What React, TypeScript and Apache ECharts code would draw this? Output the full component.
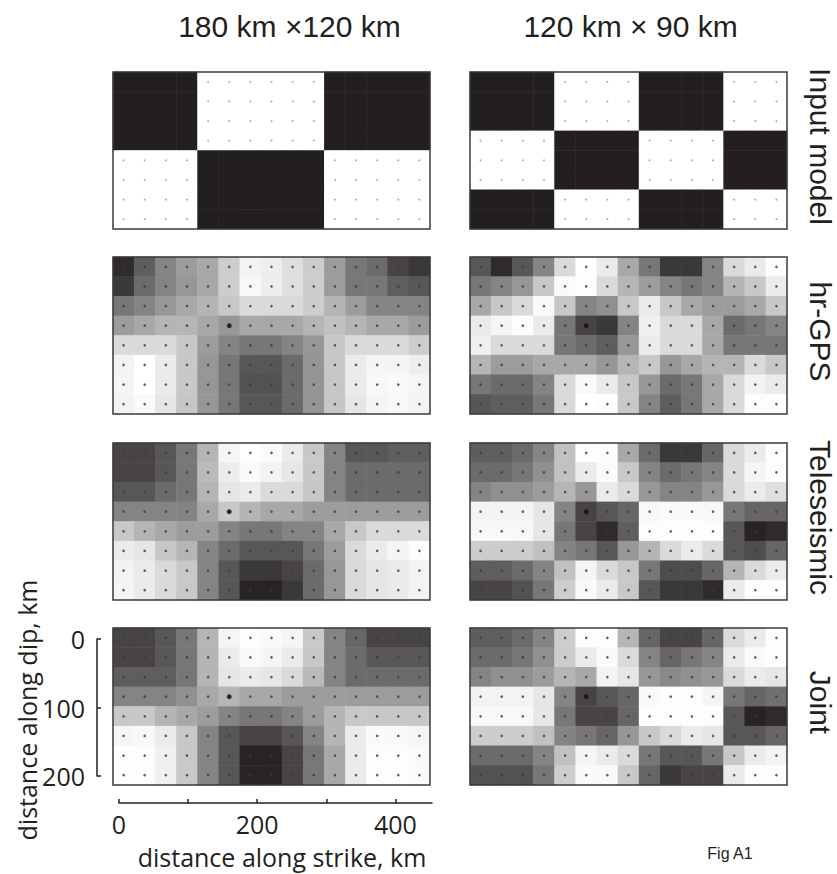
import React, { useEffect, useRef } from "react";
import * as echarts from "echarts";

// ---------- data ----------
const columnTitles = ["180 km ×120 km", "120 km × 90 km"];
const rowLabels = ["Input model", "hr-GPS", "Teleseismic", "Joint"];
const strikeCells = Array.from({ length: 15 }, (_, i) => String(i));
const dipCells = Array.from({ length: 8 }, (_, i) => String(i));
const strikeTicks = [0, 100, 200, 300, 400];
const strikeLabels = [0, 200, 400];
const dipTicks = [0, 100, 200];
const hypocenter = [5, 3];

// input checkerboards (1 = slip patch, black)
const inputLeft = [
  [1, 1, 1, 1, 0, 0, 0, 0, 0, 0, 1, 1, 1, 1, 1],
  [1, 1, 1, 1, 0, 0, 0, 0, 0, 0, 1, 1, 1, 1, 1],
  [1, 1, 1, 1, 0, 0, 0, 0, 0, 0, 1, 1, 1, 1, 1],
  [1, 1, 1, 1, 0, 0, 0, 0, 0, 0, 1, 1, 1, 1, 1],
  [0, 0, 0, 0, 1, 1, 1, 1, 1, 1, 0, 0, 0, 0, 0],
  [0, 0, 0, 0, 1, 1, 1, 1, 1, 1, 0, 0, 0, 0, 0],
  [0, 0, 0, 0, 1, 1, 1, 1, 1, 1, 0, 0, 0, 0, 0],
  [0, 0, 0, 0, 1, 1, 1, 1, 1, 1, 0, 0, 0, 0, 0],
];
const inputRight = [
  [1, 1, 1, 1, 0, 0, 0, 0, 1, 1, 1, 1, 0, 0, 0],
  [1, 1, 1, 1, 0, 0, 0, 0, 1, 1, 1, 1, 0, 0, 0],
  [1, 1, 1, 1, 0, 0, 0, 0, 1, 1, 1, 1, 0, 0, 0],
  [0, 0, 0, 0, 1, 1, 1, 1, 0, 0, 0, 0, 1, 1, 1],
  [0, 0, 0, 0, 1, 1, 1, 1, 0, 0, 0, 0, 1, 1, 1],
  [0, 0, 0, 0, 1, 1, 1, 1, 0, 0, 0, 0, 1, 1, 1],
  [1, 1, 1, 1, 0, 0, 0, 0, 1, 1, 1, 1, 0, 0, 0],
  [1, 1, 1, 1, 0, 0, 0, 0, 1, 1, 1, 1, 0, 0, 0],
];

// recovered slip, darkness 0 (white) .. 9 (black)
const hrGpsLeft = [
  [8.5, 6.5, 5, 4, 3.5, 2, 0.5, 0.7, 1.3, 2, 4, 5.5, 6, 7.5, 8],
  [8, 6, 5, 4.2, 3.5, 2, 0.3, 0.7, 1.3, 2, 4, 5.5, 5.5, 6.5, 6.8],
  [5.5, 5, 4.2, 3.5, 3, 2.2, 1.5, 1.5, 1.5, 2, 3, 4, 5, 5, 5],
  [4, 3.5, 3, 3, 3.5, 4.2, 3.5, 3.5, 3.5, 3, 2.5, 3, 3.5, 3.5, 4],
  [1.5, 1.5, 1.5, 2.2, 4, 5, 5.5, 5.5, 5, 4.2, 2.2, 1.5, 1.5, 1.5, 2],
  [0.5, 0, 0.8, 2.2, 4.2, 5.5, 6.8, 6.8, 6, 4.3, 2.2, 0.8, 0.4, 0.4, 0.7],
  [0.4, 0, 0.8, 2.2, 4.3, 5.5, 7, 7, 6, 4.3, 2.3, 0.8, 0.3, 0.2, 0.4],
  [0.5, 0.2, 1, 2.3, 4.2, 5.5, 6.8, 6.8, 6, 4.3, 2.3, 1, 0.4, 0.3, 0.5],
];
const teleLeft = [
  [7.5, 7.5, 6.8, 5.5, 3, 0.4, 0, 0.2, 0.8, 2.2, 5, 6.8, 6.8, 6.5, 6.5],
  [7.5, 7.5, 6.8, 5.5, 2.8, 0.8, 0.2, 0.5, 1, 2.2, 5, 6, 6, 6, 6],
  [6.8, 6.8, 6, 5.5, 3, 1, 0.8, 1.5, 1.5, 2.2, 5, 6, 6, 6, 6],
  [5, 5, 5, 5, 3.5, 2.2, 3, 3.5, 3.5, 4, 4, 4, 4, 4, 4],
  [2.2, 3, 3.5, 4, 4, 5, 5.5, 5.5, 5, 5, 3.5, 2.2, 1.5, 1.5, 1.5],
  [0.8, 1, 2.2, 3, 5, 6, 6.8, 6.8, 6.8, 5.5, 4, 1.5, 0.8, 0.4, 0.1],
  [0.5, 0.8, 1.5, 2.2, 5, 6.8, 8, 8, 7.5, 6, 4.2, 1.5, 1, 0.8, 0.5],
  [0.4, 0.8, 1.5, 2.2, 5, 6.8, 8.8, 8.8, 8, 6, 4.2, 1.5, 1, 0.8, 0.5],
];
const jointLeft = [
  [7.5, 7.5, 6.8, 5.5, 3, 0.4, 0.1, 0.2, 0.4, 2.2, 5, 6.2, 7.5, 7.5, 7.5],
  [7.5, 7.5, 6.8, 5.5, 3, 0.8, 0.2, 0.4, 0.8, 2.2, 5, 6, 6.8, 6.8, 6.8],
  [6.5, 6.5, 6.5, 5.5, 3, 1, 0.8, 1, 1.5, 2.8, 5, 6, 6, 6, 6],
  [5, 5, 5, 4.5, 3.5, 3, 3.5, 3.5, 4, 4, 4, 4, 4, 4, 4],
  [2.2, 2.2, 3, 3.5, 4, 5, 5.5, 5.5, 5, 4, 3, 2.2, 2.2, 2.2, 2.2],
  [0.4, 0.3, 0.8, 2.2, 5, 6.8, 7.5, 7.5, 6.8, 5, 3, 0.8, 0.2, 0.2, 0.4],
  [0.1, 0.1, 0.6, 2.2, 5, 6.8, 8.8, 8.8, 7.5, 5.5, 3.5, 0.8, 0.1, 0.1, 0.2],
  [0.1, 0.1, 0.6, 2.2, 5, 6.8, 8.8, 8.8, 7.5, 5.5, 3.5, 0.8, 0.1, 0.1, 0.2],
];
const hrGpsRight = [
  [6.8, 8.5, 6.8, 5, 1.5, 0, 0.8, 3.5, 5.5, 8, 8, 5, 1.5, 0.8, 0.1],
  [5.5, 5, 4.2, 2.2, 0.2, 0.1, 1.5, 3, 4, 5, 5.5, 5, 3, 2.2, 0.8],
  [3.5, 2.2, 1.5, 0.2, 2.2, 5, 4.5, 2.2, 0.8, 2.2, 3.5, 4, 4, 3.5, 2.2],
  [0.8, 0.4, 0.1, 0.8, 5.5, 7.5, 8, 5, 0.6, 1.5, 1.5, 3.5, 6, 5.5, 5],
  [0.6, 1.5, 1.5, 1.5, 5.5, 6, 6.5, 4.2, 0.8, 1.5, 1.5, 3.5, 5.5, 5.5, 5.5],
  [3, 4, 4, 3.5, 3.5, 3.5, 4.2, 3, 2.2, 4.2, 3.5, 3, 3, 1.5, 2.2],
  [5.5, 6, 6, 5, 1.5, 0.2, 0.8, 2.2, 4.2, 6, 5.5, 3.5, 1.5, 0.5, 0.8],
  [6.8, 6.5, 6.5, 5.5, 1.5, 0, 0.1, 2.2, 5, 6.5, 5.5, 3.5, 1.5, 0.1, 0.1],
];
const teleRight = [
  [6.5, 6.5, 6, 5, 2.5, 0.1, 0.1, 3.5, 6, 8, 8, 6.2, 1.5, 0.8, 0.1],
  [6, 6, 5.5, 4.5, 2.5, 0.8, 0.2, 2.2, 5, 6, 5.5, 5, 1.5, 0.4, 0.1],
  [5, 4.5, 4.5, 4, 3, 4.2, 0.8, 1.5, 4.2, 5, 5, 4.2, 1.5, 0.8, 1.3],
  [0.5, 0.5, 0.5, 1, 5, 7.5, 6.8, 6.2, 0.3, 0.2, 0.2, 0.3, 5.5, 6.2, 6.2],
  [0.3, 0.3, 0.3, 1, 5.5, 7.5, 8.5, 6.5, 0.1, 0.1, 0.1, 0.1, 6.8, 8.8, 8.5],
  [2, 2, 2, 2.5, 5, 5.5, 6.8, 4.2, 3, 1.5, 0.8, 1.5, 6.8, 7.2, 6.2],
  [6.5, 6.5, 6, 5, 2.5, 0.4, 1.5, 2.2, 5.5, 7.2, 7.2, 6.2, 3, 1.5, 0.8],
  [7.5, 7.5, 7, 5.5, 2, 0.2, 0.8, 2.2, 6.8, 8, 8, 8.5, 0.8, 0.1, 0.1],
];
const jointRight = [
  [6.5, 6.5, 6, 5, 2, 0.1, 0.1, 3, 6.2, 7.5, 7.5, 6.2, 1.5, 0.8, 0.1],
  [6, 6, 5.5, 4.5, 2, 0.8, 0.2, 1.5, 5, 6.2, 5.5, 5, 0.8, 0.2, 0.1],
  [5, 4.5, 4.5, 4, 3, 3.5, 0.5, 1, 4.2, 4.8, 4.5, 4.2, 1.5, 0.8, 1],
  [0.5, 0.5, 0.5, 1, 5, 7.5, 6.8, 6.2, 0.2, 0.1, 0.1, 0.4, 5.5, 6.2, 5.8],
  [0.3, 0.3, 0.3, 1, 5.5, 7.5, 7.5, 6.2, 0.1, 0.1, 0.1, 0.1, 6.8, 8.8, 8.5],
  [2, 2, 2, 2.5, 5, 5.5, 6.2, 4.2, 2.2, 1.5, 0.8, 1, 6.8, 6.8, 6.2],
  [6, 6, 6, 5, 2.5, 0.4, 0.8, 1.5, 5.5, 6.8, 6.8, 5.5, 2.2, 0.8, 0.5],
  [7, 7, 7, 5.5, 2, 0.2, 0.2, 2.2, 6.2, 8, 7.5, 7.5, 0.8, 0.1, 0.1],
];

// ---------- layout ----------
const W = 837;
const H = 874;
const COL_X = [113, 470];
const ROW_Y = [72, 257, 443, 628];
const PW = 317;
const PH = 157;
const INK = "#231f20";
const SANS = "'Liberation Sans', Arial, sans-serif";
const AXFONT = "'Open Sans', 'Noto Sans', sans-serif";

export default function App() {
  const ref = useRef<HTMLDivElement>(null);

  useEffect(() => {
    if (!ref.current) return;
    const chart = echarts.init(ref.current, undefined, { renderer: "svg" });

    const panels = [
      { col: 0, row: 0, data: inputLeft.map((r) => r.map((v) => v * 9)), input: true },
      { col: 1, row: 0, data: inputRight.map((r) => r.map((v) => v * 9)), input: true },
      { col: 0, row: 1, data: hrGpsLeft, input: false },
      { col: 1, row: 1, data: hrGpsRight, input: false },
      { col: 0, row: 2, data: teleLeft, input: false },
      { col: 1, row: 2, data: teleRight, input: false },
      { col: 0, row: 3, data: jointLeft, input: false },
      { col: 1, row: 3, data: jointRight, input: false },
    ];

    const grid: any[] = [];
    const xAxis: any[] = [];
    const yAxis: any[] = [];
    const series: any[] = [];
    const heatIdx: number[] = [];
    const graphic: any[] = [];

    panels.forEach((p, i) => {
      grid.push({ left: COL_X[p.col], top: ROW_Y[p.row], width: PW, height: PH });
      xAxis.push({ type: "category", gridIndex: i, data: strikeCells, show: false });
      yAxis.push({ type: "category", gridIndex: i, data: dipCells, inverse: true, show: false });
      const cells: any[] = [];
      const dots: any[] = [];
      p.data.forEach((row, r) =>
        row.forEach((v, c) => {
          cells.push([c, r, v]);
          if (!p.input || v < 4.5) dots.push([c, r]);
        })
      );
      heatIdx.push(series.length);
      series.push({
        type: "heatmap",
        xAxisIndex: i,
        yAxisIndex: i,
        data: cells,
        itemStyle: { borderWidth: 0 },
        emphasis: { disabled: true },
        silent: true,
      });
      series.push({
        type: "scatter",
        xAxisIndex: i,
        yAxisIndex: i,
        data: dots,
        symbolSize: p.input ? 2 : 2.6,
        itemStyle: { color: p.input ? "#a0a0a0" : "#3a3a3a" },
        silent: true,
        z: 3,
      });
      if (!p.input) {
        series.push({
          type: "scatter",
          xAxisIndex: i,
          yAxisIndex: i,
          data: [hypocenter],
          symbolSize: 5,
          itemStyle: { color: "#111" },
          silent: true,
          z: 4,
        });
      }
      graphic.push({
        type: "rect",
        shape: { x: COL_X[p.col], y: ROW_Y[p.row], width: PW, height: PH },
        style: { fill: "none", stroke: "#3a3a3a", lineWidth: 1.5 },
        z: 100,
      });
    });

    // dip axis (bottom-left panel)
    const gDip = grid.length;
    grid.push({ left: 97, top: 639, width: 10, height: 137 });
    xAxis.push({ type: "value", gridIndex: gDip, show: false });
    yAxis.push({
      type: "value",
      gridIndex: gDip,
      min: 0,
      max: 200,
      interval: 100,
      inverse: true,
      axisLine: { show: true, lineStyle: { color: INK, width: 1.5 } },
      axisTick: { show: true, inside: true, length: 4, customValues: dipTicks, lineStyle: { color: INK, width: 1.5 } },
      axisLabel: { customValues: dipTicks, fontSize: 25, color: INK, fontFamily: AXFONT, margin: 12 },
      splitLine: { show: false },
    });

    // strike axis
    const gStrike = grid.length;
    grid.push({ left: 119, top: 700, width: 313, height: 103 });
    yAxis.push({ type: "value", gridIndex: gStrike, show: false });
    xAxis.push({
      type: "value",
      gridIndex: gStrike,
      min: 0,
      max: 453,
      interval: 100,
      position: "bottom",
      axisLine: { show: true, onZero: false, lineStyle: { color: INK, width: 1.5 } },
      axisTick: { show: true, inside: true, length: 4, customValues: strikeTicks, lineStyle: { color: INK, width: 1.5 } },
      axisLabel: { customValues: strikeLabels, fontSize: 25, color: INK, fontFamily: AXFONT, margin: 8 },
      splitLine: { show: false },
    });

    // texts
    columnTitles.forEach((t, c) => {
      graphic.push({
        type: "text",
        x: COL_X[c] + PW / 2 + (c === 0 ? 18 : 2),
        y: 26,
        style: { text: t, font: `30px ${SANS}`, fill: INK, align: "center", verticalAlign: "middle" },
      });
    });
    rowLabels.forEach((t, r) => {
      graphic.push({
        type: "text",
        x: 820,
        y: ROW_Y[r] + PH / 2 - 4,
        rotation: -Math.PI / 2,
        style: { text: t, font: `30px ${SANS}`, fill: INK, align: "center", verticalAlign: "middle" },
      });
    });
    graphic.push({
      type: "text",
      x: 27,
      y: 710,
      rotation: Math.PI / 2,
      style: { text: "distance along dip, km", font: `25px ${AXFONT}`, fill: INK, align: "center", verticalAlign: "middle" },
    });
    graphic.push({
      type: "text",
      x: 282,
      y: 857,
      style: { text: "distance along strike, km", font: `25px ${AXFONT}`, fill: INK, align: "center", verticalAlign: "middle" },
    });
    graphic.push({
      type: "text",
      x: 730,
      y: 853,
      style: { text: "Fig A1", font: `16px ${SANS}`, fill: INK, align: "center", verticalAlign: "middle" },
    });

    chart.setOption({
      animation: false,
      backgroundColor: "#ffffff",
      grid,
      xAxis,
      yAxis,
      visualMap: [
        {
          type: "continuous",
          show: false,
          min: 0,
          max: 9,
          seriesIndex: heatIdx,
          inRange: { color: ["#ffffff", INK] },
        },
      ],
      series,
      graphic,
    });

    return () => chart.dispose();
  }, []);

  return (
    <div
      ref={ref}
      style={{ position: "absolute", left: 0, top: 0, width: W, height: H }}
    />
  );
}
